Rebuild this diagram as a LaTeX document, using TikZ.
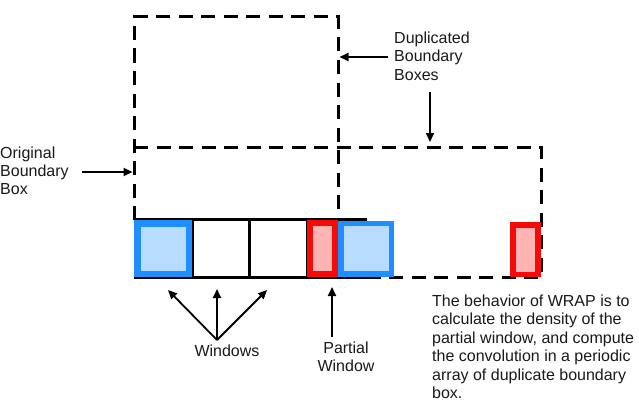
\documentclass[tikz,border=0pt]{standalone}
\usepackage{fontspec}
\setmainfont{Liberation Sans}
\usetikzlibrary{arrows.meta}
\definecolor{winblue}{HTML}{1F8FFF}
\definecolor{winbluefill}{HTML}{B8DCFF}
\definecolor{winred}{HTML}{F50A0A}
\definecolor{winredfill}{HTML}{FFB3B3}
\begin{document}
\begin{tikzpicture}[x=1pt,y=-1pt,
  dashbox/.style={line width=3pt, dash pattern=on 14pt off 8.5pt},
  rowline/.style={line width=3pt},
  winbox/.style={inner sep=0pt, outer sep=0pt, anchor=north west},
  bluewin/.style={winbox, draw=winblue, fill=winbluefill, line width=6.5pt},
  redwin/.style={winbox, draw=winred, fill=winredfill, line width=6pt},
  pointer/.style={line width=1.8pt, -{Triangle[length=9pt,width=8pt]}},
  lbl/.style={inner sep=0pt, align=left, font=\fontsize{16}{18}\selectfont, text=black!90}
]
\useasboundingbox (0,0) rectangle (639,404);
% dashed boundary boxes
\draw[dashbox] (134,220) -- (134,17) -- (338,17) -- (338,220);
\draw[dashbox] (134,147) -- (541,147) -- (541,277) -- (369,277);
% window row
\draw[rowline] (134,219.5) -- (367,219.5);
\draw[rowline] (134,277) -- (369,277);
\draw[rowline] (192,219.5) -- (192,277);
\draw[rowline] (249,219.5) -- (249,277);
\draw[rowline] (307,219.5) -- (307,277);
\node[bluewin, minimum width=51.5pt, minimum height=50.5pt] (w1) at (137.25,223.25) {};
\node[redwin, minimum width=25.5pt, minimum height=50.5pt] (pw) at (309.75,223.25) {};
\node[bluewin, line width=5.5pt, minimum width=50.5pt, minimum height=50.5pt] (w4) at (340.75,223.5) {};
\node[redwin, line width=5.5pt, minimum width=25pt, minimum height=49.5pt] (pw2) at (512.75,224.75) {};
% labels
\node[lbl, anchor=base west] (orig) at (0,194) {Original\\Boundary\\Box};
\node[lbl, anchor=base west] (dup) at (394,80) {Duplicated\\Boundary\\Boxes};
\node[lbl, anchor=base] (win) at (227,356.5) {Windows};
\node[lbl, align=center, anchor=base] (part) at (346,371.5) {Partial\\Window};
\node[lbl, font=\fontsize{16}{18.5}\selectfont, anchor=base west] (desc) at (432,398.5) {The behavior of WRAP is to\\calculate the density of the\\partial window, and compute\\the convolution in a periodic\\array of duplicate boundary\\box.};
% arrow end points
\coordinate (origtip) at (132.5,172);
\coordinate (origtail) at (82,172);
\coordinate (duptail) at (388,57);
\coordinate (duptip) at (339.5,57);
\coordinate (dup2tail) at (430,92);
\coordinate (dup2tip) at (430,142);
\coordinate (wbase) at (217,340);
\coordinate (wt1) at (168,290);
\coordinate (wt2) at (217,289);
\coordinate (wt3) at (267,290);
\coordinate (pbase) at (332,337);
\coordinate (ptip) at (332,287);
% arrows
\draw[pointer] (origtail) -- (origtip);
\draw[pointer] (duptail) -- (duptip);
\draw[pointer] (dup2tail) -- (dup2tip);
\draw[pointer] (wbase) -- (wt1);
\draw[pointer] (wbase) -- (wt2);
\draw[pointer] (wbase) -- (wt3);
\draw[pointer] (pbase) -- (ptip);
\end{tikzpicture}
\end{document}
